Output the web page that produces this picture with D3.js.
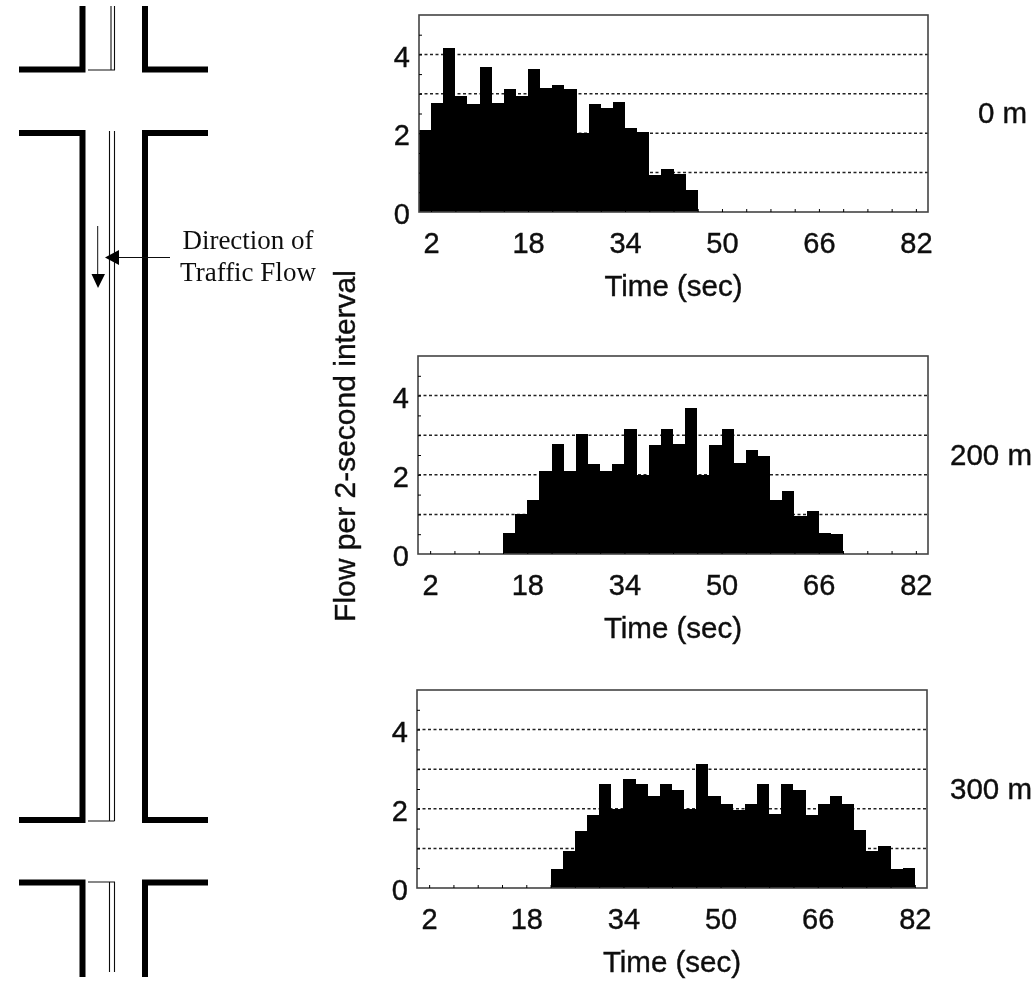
<!DOCTYPE html>
<html>
<head>
<meta charset="utf-8">
<script src="https://cdn.jsdelivr.net/npm/d3@7"></script>
<style>
	html, body { margin: 0; padding: 0; background: #fff; }
	svg { display: block; }
	text { font-family: "Liberation Sans", Arial, sans-serif; fill: #111; }
	.heavy text, text.heavy { stroke: #111; stroke-width: 0.4px; }
</style>
</head>
<body>
<svg id="chart" width="1036" height="982">
	<defs>
		<filter id="scan" x="0" y="0" width="100%" height="100%" filterUnits="userSpaceOnUse">
			<feGaussianBlur stdDeviation="0.55"></feGaussianBlur>
		</filter>
	</defs>
</svg>
<script>
// flow per 2-second bin, 42 bins
var flow0m = [2.09, 2.77, 4.17, 2.94, 2.73, 3.68, 2.77, 3.13, 2.94, 3.64, 3.15, 3.22, 3.13, 2.0, 2.75, 2.63, 2.8, 2.13, 2.03, 0.95, 1.08, 0.97, 0.57, 0, 0, 0, 0, 0, 0, 0, 0, 0, 0, 0, 0, 0, 0, 0, 0, 0, 0, 0];
var flow200m = [0, 0, 0, 0, 0, 0, 0, 0.52, 1.0, 1.36, 2.1, 2.77, 2.1, 3.02, 2.27, 2.1, 2.27, 3.16, 2.0, 2.74, 3.16, 2.78, 3.69, 2.0, 2.74, 3.16, 2.31, 2.63, 2.48, 1.36, 1.6, 0.95, 1.08, 0.52, 0.5, 0, 0, 0, 0, 0, 0, 0];
var flow300m = [0, 0, 0, 0, 0, 0, 0, 0, 0, 0, 0, 0.49, 0.93, 1.45, 1.84, 2.63, 2.0, 2.74, 2.63, 2.32, 2.63, 2.47, 2.0, 3.12, 2.32, 2.11, 1.98, 2.11, 2.63, 1.86, 2.63, 2.47, 1.84, 2.11, 2.32, 2.11, 1.47, 0.93, 1.05, 0.48, 0.51, 0];

var xTickLabels = [2, 18, 34, 50, 66, 82];
var xMinorTicks = [2, 6, 10, 14, 18, 22, 26, 30, 34, 38, 42, 46, 50, 54, 58, 62, 66, 70, 74, 78, 82];
var yTickLabels = [0, 2, 4];
var yMinorTicks = [0.5, 1, 1.5, 2, 2.5, 3, 3.5, 4, 4.5];
var gridValues = [1, 2, 3, 4];
var stationLabels = ["0 m", "200 m", "300 m"];

var svg = d3.select("#chart");
var root = svg.append("g").attr("filter", "url(#scan)");
root.append("rect").attr("width", 1036).attr("height", 982).attr("fill", "#fff");

function drawPanel(values, left, right, top, bottom, station, stationX) {
	var x = d3.scaleLinear().domain([0, 84]).range([left, right]);
	var y = d3.scaleLinear().domain([0, 5]).range([bottom, top]);
	var g = root.append("g").attr("class", "heavy");

	// dashed grid
	g.selectAll(".grid")
		.data(gridValues)
		.enter()
		.append("line")
			.attr("x1", left)
			.attr("x2", right)
			.attr("y1", function(d) { return y(d); })
			.attr("y2", function(d) { return y(d); })
			.attr("stroke", "#222")
			.attr("stroke-width", 1.5)
			.attr("stroke-dasharray", "3 2.5");

	// bars
	g.selectAll(".bar")
		.data(values)
		.enter()
		.append("rect")
			.attr("x", function(d, i) { return x(i * 2); })
			.attr("width", function(d, i) { return x(i * 2 + 2) - x(i * 2); })
			.attr("y", function(d) { return y(d); })
			.attr("height", function(d) { return y(0) - y(d); })
			.attr("fill", "#000")
			.attr("shape-rendering", "crispEdges");

	// frame
	g.append("rect")
		.attr("x", left)
		.attr("y", top)
		.attr("width", right - left)
		.attr("height", bottom - top)
		.attr("fill", "none")
		.attr("stroke", "#444")
		.attr("stroke-width", 1.6);

	// small inward ticks
	var minorY = d3.axisLeft(y).tickValues(yMinorTicks).tickSize(-3).tickFormat("");
	g.append("g").attr("transform", "translate(" + left + ",0)").call(minorY)
		.call(function(a) { a.select(".domain").remove(); });
	var minorX = d3.axisBottom(x).tickValues(xMinorTicks).tickSize(-3).tickFormat("");
	g.append("g").attr("transform", "translate(0," + bottom + ")").call(minorX)
		.call(function(a) { a.select(".domain").remove(); });

	// labelled axes
	var yAxis = d3.axisLeft(y).tickValues(yTickLabels).tickSize(0).tickPadding(9).tickFormat(d3.format("d"));
	g.append("g").attr("transform", "translate(" + left + ",0)").call(yAxis)
		.call(function(a) {
			a.select(".domain").remove();
			a.selectAll("text").style("font-size", "29px").attr("dy", "0.4em");
		});
	var xAxis = d3.axisBottom(x).tickValues(xTickLabels).tickSize(0).tickPadding(20);
	g.append("g").attr("transform", "translate(0," + bottom + ")").call(xAxis)
		.call(function(a) {
			a.select(".domain").remove();
			a.selectAll("text").style("font-size", "29px");
		});

	g.append("text")
		.attr("x", (left + right) / 2)
		.attr("y", bottom + 84)
		.attr("text-anchor", "middle")
		.style("font-size", "29.5px")
		.text("Time (sec)");

	g.append("text")
		.attr("x", stationX)
		.attr("y", y(2) - 10)
		.style("font-size", "29.5px")
		.text(station);
}

drawPanel(flow0m, 419, 928, 15, 212, stationLabels[0], 978);
drawPanel(flow200m, 418, 928, 356, 554, stationLabels[1], 950);
drawPanel(flow300m, 417, 927, 690, 888, stationLabels[2], 950);

root.append("text")
	.attr("class", "heavy")
	.attr("transform", "translate(355,446)rotate(-90)")
	.attr("text-anchor", "middle")
	.style("font-size", "30px")
	.text("Flow per 2-second interval");

// road schematic on the left
var walls = [
	"M82.5,6V69.5H19", "M145,6V69.5H208",
	"M19,133H82.5V820H19", "M208,133H145V820H208",
	"M19,882.5H82.5V977", "M208,882.5H145V977"
];
root.selectAll(".wall")
	.data(walls)
	.enter()
	.append("path")
		.attr("d", function(d) { return d; })
		.attr("fill", "none")
		.attr("stroke", "#000")
		.attr("stroke-width", 6);

var medians = [
	"M88,70H114.5V6M111,6V70",
	"M109.5,131V821M114.5,131V821M88,821H114.5",
	"M88,882H114.5V972M109.5,882V972"
];
root.selectAll(".median")
	.data(medians)
	.enter()
	.append("path")
		.attr("d", function(d) { return d; })
		.attr("fill", "none")
		.attr("stroke", "#111")
		.attr("stroke-width", 1.1);

root.append("path").attr("d", "M97.7,226V276M170,257.5H116").attr("stroke", "#111").attr("fill", "none");
root.append("path").attr("d", "M91.5,274H105L98,288Z M105,257.5L119,250V265Z").attr("fill", "#000");

var callout = ["Direction of", "Traffic Flow"];
root.selectAll(".callout")
	.data(callout)
	.enter()
	.append("text")
		.attr("x", 248)
		.attr("y", function(d, i) { return 249 + i * 32; })
		.attr("text-anchor", "middle")
		.style("font-family", "'Liberation Serif', serif")
		.style("font-size", "27px")
		.text(function(d) { return d; });
</script>
</body>
</html>
